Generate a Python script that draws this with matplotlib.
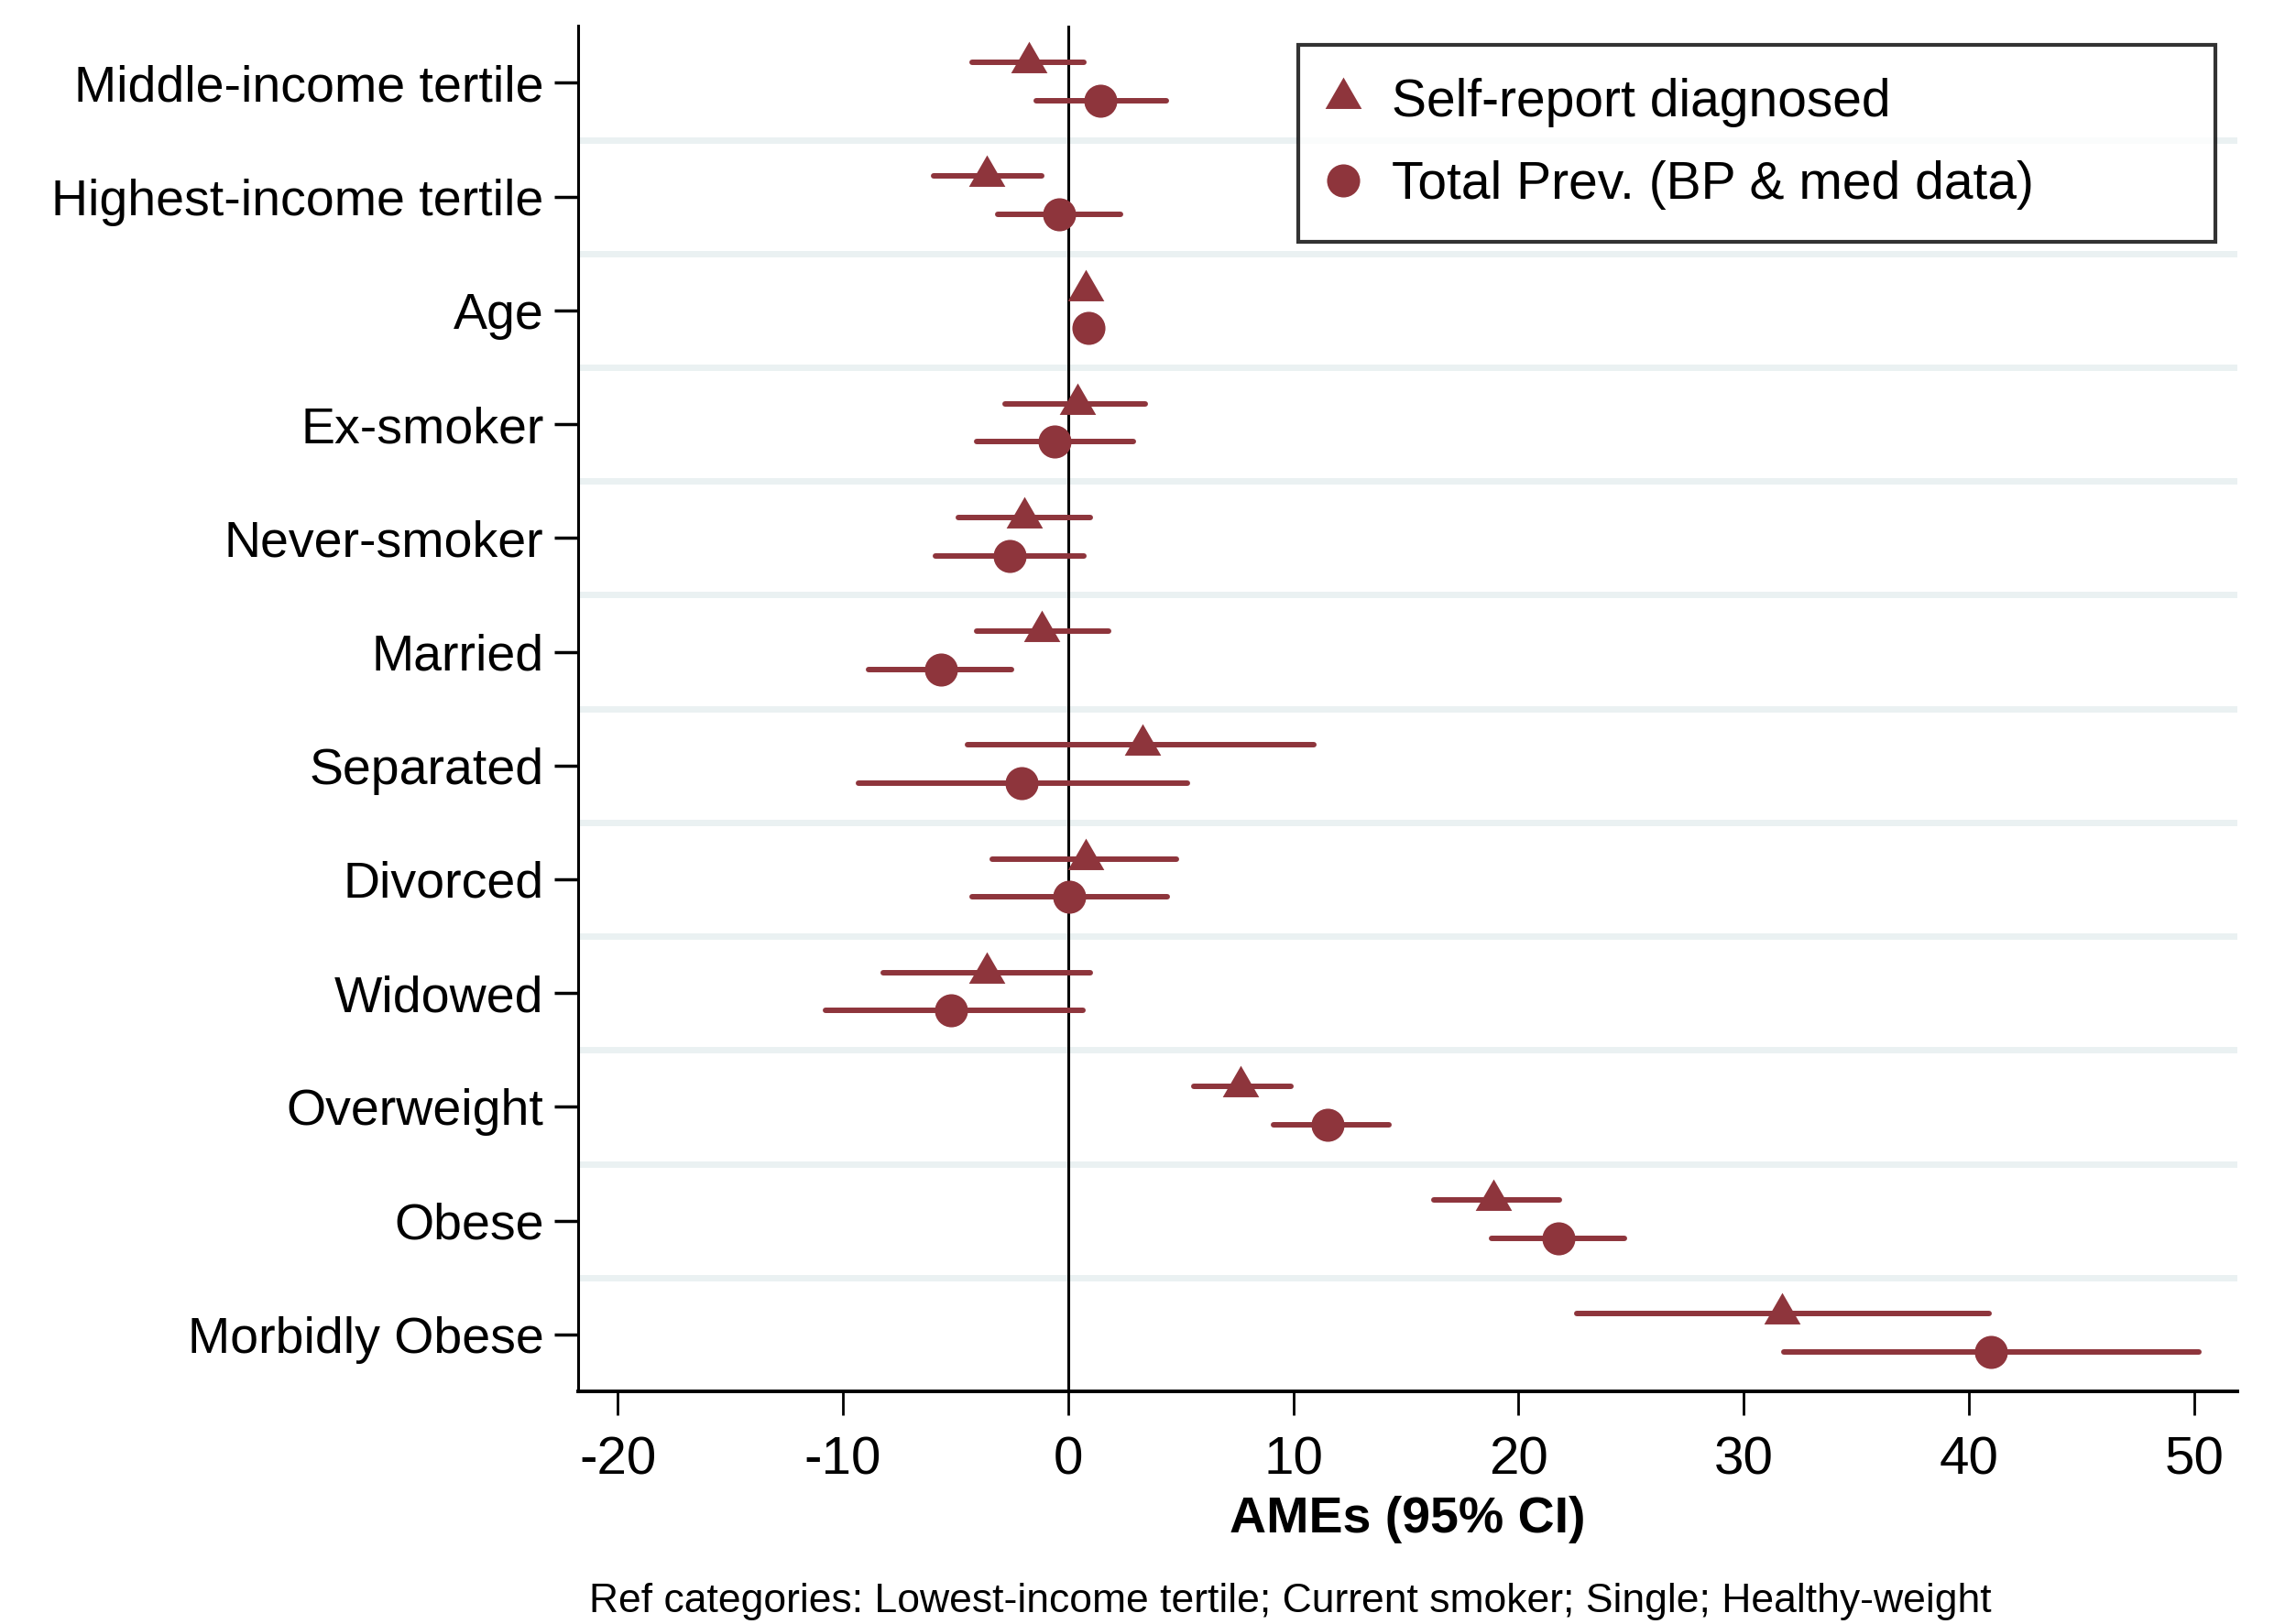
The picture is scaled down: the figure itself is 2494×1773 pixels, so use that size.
import numpy as np
import matplotlib
matplotlib.use('Agg')
import matplotlib.pyplot as plt

plt.rcParams['font.family'] = ['Liberation Sans', 'DejaVu Sans']

categories = ['Middle-income tertile', 'Highest-income tertile', 'Age', 'Ex-smoker',
              'Never-smoker', 'Married', 'Separated', 'Divorced', 'Widowed',
              'Overweight', 'Obese', 'Morbidly Obese']

# self-report diagnosed
sr_est = [-1.74, -3.60, 0.78, 0.40, -1.94, -1.16, 3.31, 0.78, -3.62, 7.65, 18.9, 31.7]
sr_lo = [-4.27, -5.95, 0.68, -2.78, -4.85, -4.07, -4.46, -3.36, -8.22, 5.58, 16.26, 22.6]
sr_hi = [0.71, -1.16, 0.88, 3.43, 0.98, 1.81, 10.9, 4.80, 0.98, 9.91, 21.83, 40.9]

# total prevalence (BP & med data)
tp_est = [1.43, -0.38, 0.91, -0.58, -2.58, -5.63, -2.07, 0.07, -5.18, 11.54, 21.77, 40.96]
tp_lo = [-1.42, -3.10, 0.81, -4.07, -5.89, -8.87, -9.32, -4.27, -10.75, 9.14, 18.8, 31.8]
tp_hi = [4.35, 2.34, 1.01, 2.92, 0.71, -2.52, 5.32, 4.41, 0.65, 14.25, 24.7, 50.2]

xticks = [-20, -10, 0, 10, 20, 30, 40, 50]

col = '#8E353C'
grid_col = '#EAF1F2'
# triangle centred on its centroid, like stata draws it
tri = [(0, 1.0), (-0.866, -0.5), (0.866, -0.5), (0, 1.0)]

fig = plt.figure(figsize=(24.94, 17.73), dpi=100)
ax = fig.add_axes([0.253, 0.1433, 0.726, 0.8407])

pos = np.arange(len(categories))

for y in pos[1:] - 0.5:
    ax.axhline(y, color=grid_col, lw=5, zorder=0)

ax.axvline(0, color='black', lw=2.2, zorder=1)

ax.hlines(pos - 0.18, sr_lo, sr_hi, color=col, lw=4.3, zorder=2, capstyle='round')
ax.plot(sr_est, pos - 0.18, marker=tri, color=col, ms=33, mec=col, mew=0, zorder=3,
        label='Self-report diagnosed', ls='none')
ax.hlines(pos + 0.155, tp_lo, tp_hi, color=col, lw=4.3, zorder=2, capstyle='round')
ax.plot(tp_est, pos + 0.155, 'o', color=col, ms=26, mec=col, mew=0, zorder=3,
        label='Total Prev. (BP & med data)', ls='none')

ax.set_ylim(len(categories) - 0.5, -0.5)
ax.set_xlim(-21.75, 51.9)
ax.set_yticks(pos)
ax.set_yticklabels(categories, fontsize=40)
ax.set_xticks(xticks)
ax.set_xticklabels([str(t) for t in xticks], fontsize=42)
ax.tick_params(axis='y', length=19, width=2.5, pad=8)
ax.tick_params(axis='x', length=19, width=2, pad=16)

for s in ['top', 'right']:
    ax.spines[s].set_visible(False)
ax.spines['left'].set_linewidth(2.2)
ax.spines['bottom'].set_linewidth(2.8)

ax.set_xlabel('AMEs (95% CI)', fontsize=40, fontweight='bold', labelpad=8)

leg = ax.legend(loc='upper left', bbox_to_anchor=(0.434, 0.986, 0.553, 0.0), mode='expand',
                fontsize=41, frameon=True, fancybox=False, edgecolor='black',
                handletextpad=0.67, borderpad=0.62, labelspacing=0.64,
                handlelength=0.5, borderaxespad=0)
leg.get_frame().set_linewidth(3)

fig.text(0.258, 0.002, 'Ref categories: Lowest-income tertile; Current smoker; Single; Healthy-weight',
         fontsize=32, ha='left', va='bottom')

fig.savefig('out.png', dpi=100, facecolor='white')
